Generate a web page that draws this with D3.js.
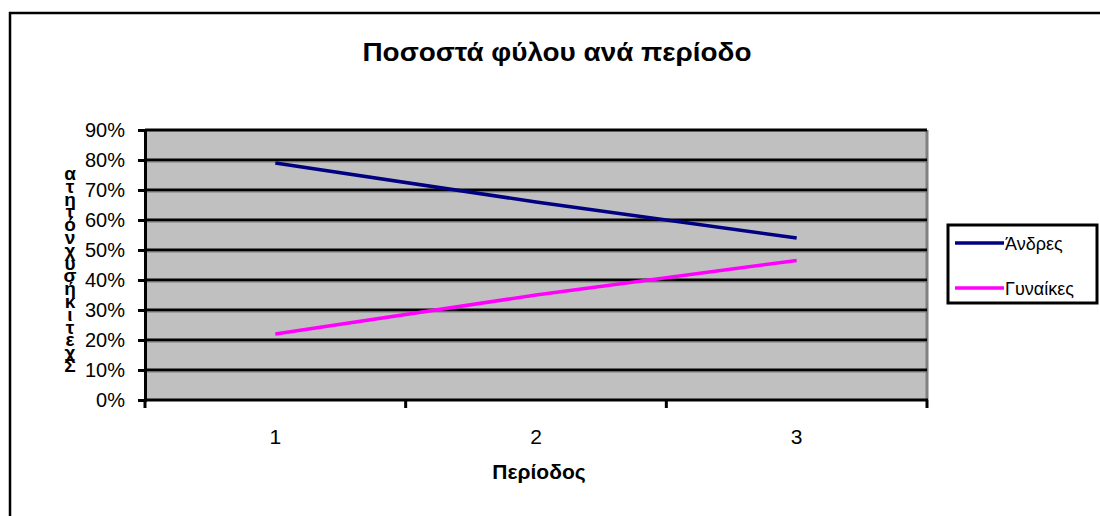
<!DOCTYPE html>
<html>
<head>
<meta charset="utf-8">
<script src="https://cdn.jsdelivr.net/npm/d3@7"></script>
<style>
  html, body { margin: 0; padding: 0; background: #fff; }
  svg { display: block; font-family: "Liberation Sans", Arial, sans-serif; }
</style>
</head>
<body>
<svg id="chart" width="1100" height="516"></svg>
<script>
// Share of each sex per period
const periods = ["1", "2", "3"];
const men = [0.79, 0.66, 0.54];
const women = [0.22, 0.35, 0.465];
const seriesNames = ["Άνδρες", "Γυναίκες"];
const seriesColors = ["#000080", "#FF00FF"];
const yTicks = [0, 0.1, 0.2, 0.3, 0.4, 0.5, 0.6, 0.7, 0.8, 0.9];
const title = "Ποσοστά φύλου ανά περίοδο";
const xTitle = "Περίοδος";
const yTitle = "Σχετική συχνότητα";

const svg = d3.select("#chart");

// outer frame
svg.append("rect")
  .attr("x", 10).attr("y", 13).attr("width", 1100).attr("height", 520)
  .attr("fill", "#fff").attr("stroke", "#000").attr("stroke-width", 2.5);

const plot = { left: 145, right: 927, top: 130, bottom: 400 };

const x = d3.scaleBand().domain(periods).range([plot.left, plot.right]);
const y = d3.scaleLinear().domain([0, 0.9]).range([plot.bottom, plot.top]);

// plot background
svg.append("rect")
  .attr("x", plot.left).attr("y", plot.top)
  .attr("width", plot.right - plot.left).attr("height", plot.bottom - plot.top)
  .attr("fill", "#C0C0C0");

// right border of plot area
svg.append("line")
  .attr("x1", plot.right).attr("x2", plot.right)
  .attr("y1", plot.top).attr("y2", plot.bottom)
  .attr("stroke", "#808080").attr("stroke-width", 3);

// horizontal gridlines
svg.append("g").selectAll("line")
  .data(yTicks.filter(d => d > 0))
  .join("line")
  .attr("x1", plot.left).attr("x2", plot.right)
  .attr("y1", d => y(d)).attr("y2", d => y(d))
  .attr("stroke", "#000").attr("stroke-width", 3);
svg.append("g").selectAll("line")
  .data(yTicks.filter(d => d > 0 && d < 0.9))
  .join("line")
  .attr("x1", plot.left).attr("x2", plot.right)
  .attr("y1", d => y(d) + 2).attr("y2", d => y(d) + 2)
  .attr("stroke", "#7a7a7a").attr("stroke-width", 1);

// y axis
const yAxis = d3.axisLeft(y).tickValues(yTicks)
  .tickFormat(d3.format(".0%")).tickSize(7).tickPadding(13);
const gy = svg.append("g").attr("transform", `translate(${plot.left},0)`).call(yAxis);
gy.select(".domain").attr("stroke", "#000").attr("stroke-width", 3);
gy.selectAll(".tick line").attr("stroke", "#000").attr("stroke-width", 3);
gy.selectAll(".tick text")
  .attr("font-size", 20).attr("fill", "#000")
  .attr("font-family", "Liberation Sans, Arial, sans-serif");

// x axis with ticks between categories
const xBoundaries = [...periods.map(p => x(p)), x(periods[periods.length - 1]) + x.bandwidth()];
const gx = svg.append("g");
gx.append("line")
  .attr("x1", plot.left - 1).attr("x2", plot.right + 1)
  .attr("y1", plot.bottom).attr("y2", plot.bottom)
  .attr("stroke", "#000").attr("stroke-width", 3);
gx.selectAll("line.tk").data(xBoundaries).join("line").attr("class", "tk")
  .attr("x1", d => d).attr("x2", d => d)
  .attr("y1", plot.bottom).attr("y2", plot.bottom + 8)
  .attr("stroke", "#000").attr("stroke-width", 3);
gx.selectAll("text").data(periods).join("text")
  .attr("x", d => x(d) + x.bandwidth() / 2)
  .attr("y", 444)
  .attr("text-anchor", "middle")
  .attr("font-size", 21)
  .text(d => d);

// series lines
const line = d3.line()
  .x((d, i) => x(periods[i]) + x.bandwidth() / 2)
  .y(d => y(d));
[men, women].forEach((vals, i) => {
  svg.append("path")
    .datum(vals)
    .attr("d", line)
    .attr("fill", "none")
    .attr("stroke", seriesColors[i])
    .attr("stroke-width", 3.5);
});

// title
svg.append("text")
  .attr("x", 557).attr("y", 61)
  .attr("text-anchor", "middle")
  .attr("font-size", 25).attr("font-weight", "bold")
  .attr("textLength", 389).attr("lengthAdjust", "spacingAndGlyphs")
  .text(title);

// x axis title
svg.append("text")
  .attr("x", 539).attr("y", 479)
  .attr("text-anchor", "middle")
  .attr("font-size", 21).attr("font-weight", "bold")
  .text(xTitle);

// y axis title: characters stacked from bottom to top
const yChars = Array.from(yTitle).filter(c => c !== " ");
svg.append("g").selectAll("text")
  .data(yChars)
  .join("text")
  .attr("x", 70)
  .attr("y", (d, i) => 372 - i * 12.8)
  .attr("text-anchor", "middle")
  .attr("font-size", 19).attr("font-weight", "bold")
  .text(d => d);

// legend
const lg = svg.append("g");
lg.append("rect")
  .attr("x", 948).attr("y", 225).attr("width", 149).attr("height", 78)
  .attr("fill", "#fff").attr("stroke", "#000").attr("stroke-width", 3);
seriesNames.forEach((name, i) => {
  const ly = 243 + i * 45;
  lg.append("line")
    .attr("x1", 955).attr("x2", 1004)
    .attr("y1", ly).attr("y2", ly)
    .attr("stroke", seriesColors[i]).attr("stroke-width", 3.5);
  lg.append("text")
    .attr("x", 1005).attr("y", ly + 7)
    .attr("font-size", 18)
    .text(name);
});
</script>
</body>
</html>
